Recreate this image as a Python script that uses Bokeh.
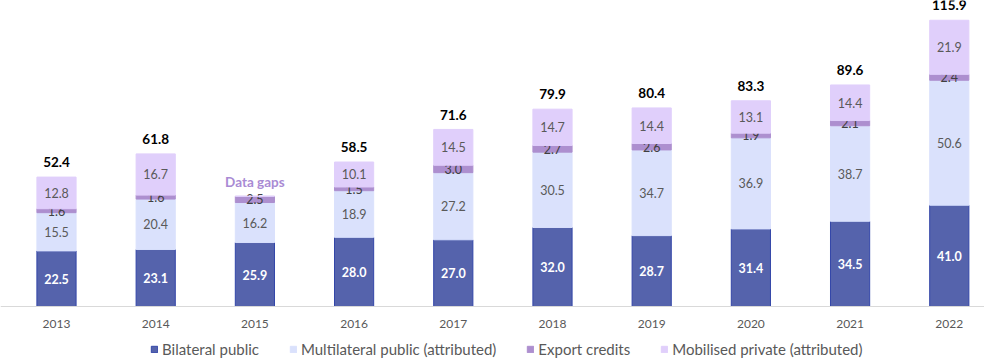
from bokeh.plotting import figure
from bokeh.models import (ColumnDataSource, Range1d, Legend, LegendItem, Span)
from bokeh.core.properties import value
from bokeh.embed import file_html
from bokeh.resources import INLINE

years = ["2013", "2014", "2015", "2016", "2017", "2018", "2019", "2020", "2021", "2022"]
bilateral = [22.5, 23.1, 25.9, 28.0, 27.0, 32.0, 28.7, 31.4, 34.5, 41.0]
multilateral = [15.5, 20.4, 16.2, 18.9, 27.2, 30.5, 34.7, 36.9, 38.7, 50.6]
export_credits = [1.6, 1.6, 2.5, 1.5, 3.0, 2.7, 2.6, 1.9, 2.1, 2.4]
private = [12.8, 16.7, None, 10.1, 14.5, 14.7, 14.4, 13.1, 14.4, 21.9]
totals = [52.4, 61.8, None, 58.5, 71.6, 79.9, 80.4, 83.3, 89.6, 115.9]
gap_label = "Data gaps"

series_names = ["Bilateral public", "Multilateral public (attributed)",
                "Export credits", "Mobilised private (attributed)"]
colors = ["#5563ac", "#dae1fc", "#ad8fcf", "#e0cffb"]
FONT = "Lato"

x = list(range(len(years)))
p = figure(frame_width=984, frame_height=358, x_range=Range1d(-0.5645, 9.355),
           y_range=Range1d(-21.05, 123.9),
           output_backend="svg", toolbar_location=None,
           min_border_left=0, min_border_right=0, min_border_top=0, min_border_bottom=0)
p.outline_line_color = None
p.xgrid.grid_line_color = None
p.ygrid.grid_line_color = None
p.xaxis.visible = False
p.yaxis.visible = False
p.background_fill_color = "white"
p.border_fill_color = "white"

# baseline and category labels
p.add_layout(Span(location=0, dimension="width", line_color="#d9d9d9", line_width=1))
p.text(x="x", y="y", text="t", source=ColumnDataSource(dict(x=x, y=[0] * len(x), t=years)),
       text_align="center", text_baseline="middle", y_offset=17,
       text_font=value(FONT), text_font_size="12px", text_color="#595959")

series = [bilateral, multilateral, export_credits, private]
bottom = [0.0] * len(years)
renderers = []
for k, vals in enumerate(series):
    v = [0.0 if a is None else a for a in vals]
    top = [b + a for b, a in zip(bottom, v)]
    src = ColumnDataSource(dict(x=x, bottom=bottom, top=top))
    r = p.vbar(x="x", bottom="bottom", top="top", width=0.395, source=src,
               fill_color=colors[k],
               line_color="#3346a8" if k == 0 else colors[k], line_width=1)
    renderers.append(r)
    lx, ly, lt = [], [], []
    for i, a in enumerate(vals):
        if a is None:
            continue
        lx.append(x[i]); ly.append((bottom[i] + top[i]) / 2); lt.append(f"{a:.1f}")
    lsrc = ColumnDataSource(dict(x=lx, y=ly, t=lt))
    if k == 0:
        p.text(x="x", y="y", text="t", source=lsrc, text_align="center", text_baseline="middle",
               text_font=value(FONT), text_font_size="12.5px", text_font_style="bold",
               text_color="white")
    else:
        p.text(x="x", y="y", text="t", source=lsrc, text_align="center", text_baseline="middle",
               text_font=value(FONT), text_font_size="12.5px",
               text_color="#404040" if k == 2 else "#595959")
    bottom = top

tx, ty, tt = [], [], []
gx, gy = [], []
for i, t in enumerate(totals):
    if t is None:
        gx.append(x[i]); gy.append(bottom[i])
    else:
        tx.append(x[i]); ty.append(t); tt.append(f"{t:.1f}")
p.text(x="x", y="y", text="t", source=ColumnDataSource(dict(x=tx, y=ty, t=tt)),
       text_align="center", text_baseline="middle", y_offset=-15,
       text_font=value(FONT), text_font_size="13.5px", text_font_style="bold", text_color="black")
p.text(x="x", y="y", text="t", source=ColumnDataSource(dict(x=gx, y=gy, t=[gap_label] * len(gx))),
       text_align="center", text_baseline="middle", y_offset=-14,
       text_font=value(FONT), text_font_size="13.5px", text_font_style="bold", text_color="#a98bd4")

legend = Legend(items=[LegendItem(label=n, renderers=[r]) for n, r in zip(series_names, renderers)],
                orientation="horizontal", location=(150, 0),
                label_text_font=FONT, label_text_font_size="15px", label_text_color="#595959",
                glyph_width=8, glyph_height=8, label_standoff=4, spacing=30,
                label_height=14, padding=0, margin=0, border_line_color=None,
                background_fill_alpha=0)
p.add_layout(legend, "center")

open("out.html", "w").write(file_html(p, INLINE))
